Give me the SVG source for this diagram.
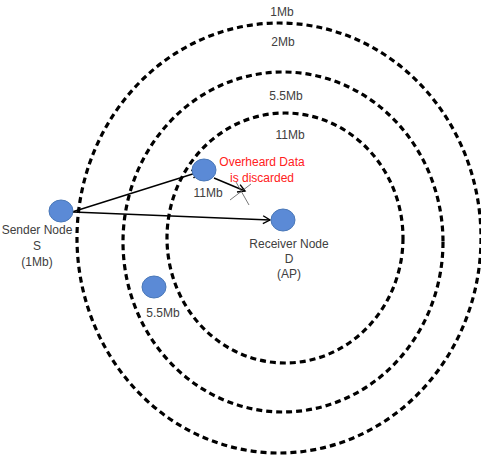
<svg xmlns="http://www.w3.org/2000/svg" width="481" height="457" viewBox="0 0 481 457">
<style>
.ring{fill:none;stroke:#000;stroke-width:3.2;stroke-dasharray:6 4}
.node{fill:#5b8ad6;stroke:#4a78b8;stroke-width:1}
.t{font-family:"Liberation Sans",Arial,sans-serif;font-size:12px;fill:#404040;text-anchor:middle}
.r{fill:#ff2020}
.e{stroke:#000;stroke-width:1.4;fill:none}
.x{stroke:#555;stroke-width:0.8;fill:none}
</style>
<defs>
<marker id="ah" markerWidth="10" markerHeight="10" refX="8" refY="5" orient="auto" markerUnits="userSpaceOnUse">
<path d="M1,1 L8,5 L1,9" fill="none" stroke="#000" stroke-width="1.4"/>
</marker>
</defs>
<g id="rings">
<ellipse class="ring" cx="279" cy="238" rx="202" ry="215"/>
<ellipse class="ring" cx="283" cy="242" rx="160" ry="170"/>
<ellipse class="ring" cx="285" cy="238" rx="118" ry="125"/>
</g>
<g id="ring-labels">
<text class="t" x="282" y="16">1Mb</text>
<text class="t" x="283" y="46">2Mb</text>
<text class="t" x="286" y="100">5.5Mb</text>
<text class="t" x="290" y="139">11Mb</text>
</g>
<g id="connectors">
<line class="e" x1="72" y1="212" x2="199" y2="172" marker-end="url(#ah)"/>
<line class="e" x1="73" y1="212" x2="270" y2="220" marker-end="url(#ah)"/>
<line class="e" x1="214" y1="178" x2="245" y2="191" marker-end="url(#ah)"/>
<line class="x" x1="230" y1="200" x2="251" y2="184"/>
<line class="x" x1="236" y1="182" x2="249" y2="205"/>
</g>
<g id="sender">
<ellipse class="node" cx="61" cy="211" rx="12" ry="11"/>
<text class="t" x="37" y="234">Sender Node</text>
<text class="t" x="37" y="250">S</text>
<text class="t" x="37" y="266">(1Mb)</text>
</g>
<g id="node11">
<ellipse class="node" cx="204" cy="170" rx="12" ry="11"/>
<text class="t" x="208" y="197">11Mb</text>
<text class="t r" x="262" y="166">Overheard Data</text>
<text class="t r" x="262" y="182">is discarded</text>
</g>
<g id="receiver">
<ellipse class="node" cx="283" cy="220" rx="12" ry="11"/>
<text class="t" x="289" y="248">Receiver Node</text>
<text class="t" x="289" y="263">D</text>
<text class="t" x="289" y="278">(AP)</text>
</g>
<g id="node55">
<ellipse class="node" cx="154" cy="287" rx="12" ry="11"/>
<text class="t" x="163" y="317">5.5Mb</text>
</g>
</svg>
